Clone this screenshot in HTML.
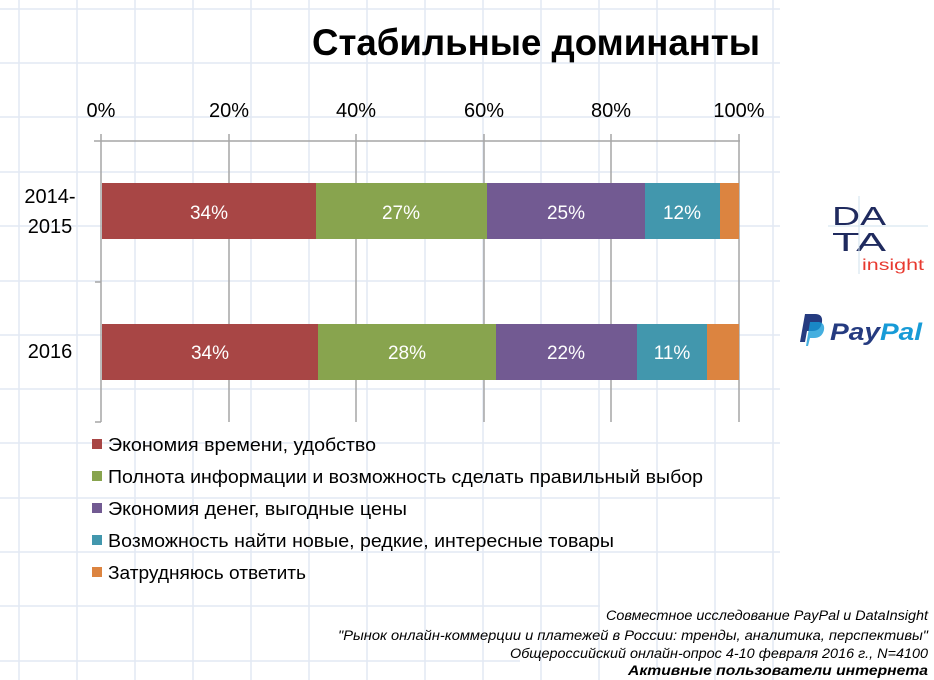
<!DOCTYPE html>
<html><head><meta charset="utf-8"><style>
html,body{margin:0;padding:0;background:#fff;}
svg{display:block;font-family:"Liberation Sans","DejaVu Sans",sans-serif;}
</style></head><body>
<svg width="934" height="680" viewBox="0 0 934 680" xmlns="http://www.w3.org/2000/svg">
<rect width="934" height="680" fill="#fff"/>
<g stroke="#e2e9f3" stroke-width="1.5">
<line x1="19" y1="0" x2="19" y2="680"/><line x1="77" y1="0" x2="77" y2="680"/><line x1="135" y1="0" x2="135" y2="680"/><line x1="193" y1="0" x2="193" y2="680"/><line x1="251" y1="0" x2="251" y2="680"/><line x1="309" y1="0" x2="309" y2="680"/><line x1="367" y1="0" x2="367" y2="680"/><line x1="425" y1="0" x2="425" y2="680"/><line x1="483" y1="0" x2="483" y2="680"/><line x1="541" y1="0" x2="541" y2="680"/><line x1="599" y1="0" x2="599" y2="680"/><line x1="657" y1="0" x2="657" y2="680"/><line x1="715" y1="0" x2="715" y2="680"/><line x1="773" y1="0" x2="773" y2="680"/>
<line x1="0" y1="9" x2="780" y2="9"/><line x1="0" y1="63" x2="780" y2="63"/><line x1="0" y1="117" x2="780" y2="117"/><line x1="0" y1="172" x2="780" y2="172"/><line x1="0" y1="226" x2="780" y2="226"/><line x1="0" y1="281" x2="780" y2="281"/><line x1="0" y1="335" x2="780" y2="335"/><line x1="0" y1="389" x2="780" y2="389"/><line x1="0" y1="443" x2="780" y2="443"/><line x1="0" y1="498" x2="780" y2="498"/><line x1="0" y1="552" x2="780" y2="552"/><line x1="0" y1="606" x2="600" y2="606"/><line x1="0" y1="661" x2="520" y2="661"/>
</g>
<text x="312" y="55" font-size="37" font-weight="bold" textLength="448" lengthAdjust="spacingAndGlyphs">Стабильные доминанты</text>
<g font-size="20" text-anchor="middle">
<text x="101" y="117">0%</text><text x="229" y="117">20%</text><text x="356" y="117">40%</text><text x="484" y="117">60%</text><text x="611" y="117">80%</text><text x="739" y="117">100%</text>
</g>
<g stroke="#a6a6a6" stroke-width="1.5">
<line x1="94" y1="141" x2="740" y2="141"/>
<line x1="101" y1="134" x2="101" y2="422"/>
<line x1="229" y1="134" x2="229" y2="422"/><line x1="356" y1="134" x2="356" y2="422"/><line x1="484" y1="134" x2="484" y2="422"/><line x1="611" y1="134" x2="611" y2="422"/><line x1="739" y1="134" x2="739" y2="422"/>
<line x1="95" y1="282" x2="101" y2="282"/><line x1="95" y1="422" x2="101" y2="422"/>
</g>
<rect x="102" y="183" width="214" height="56" fill="#a84645"/>
<rect x="316" y="183" width="171" height="56" fill="#88a44e"/>
<rect x="487" y="183" width="158" height="56" fill="#725a92"/>
<rect x="645" y="183" width="75" height="56" fill="#4297ad"/>
<rect x="720" y="183" width="19" height="56" fill="#dc8440"/>
<rect x="102" y="324" width="216" height="56" fill="#a84645"/>
<rect x="318" y="324" width="178" height="56" fill="#88a44e"/>
<rect x="496" y="324" width="141" height="56" fill="#725a92"/>
<rect x="637" y="324" width="70" height="56" fill="#4297ad"/>
<rect x="707" y="324" width="32" height="56" fill="#dc8440"/>
<g font-size="19" fill="#fff" text-anchor="middle">
<text x="209" y="219">34%</text><text x="401" y="219">27%</text><text x="566" y="219">25%</text><text x="682" y="219">12%</text>
<text x="210" y="359">34%</text><text x="407" y="359">28%</text><text x="566" y="359">22%</text><text x="672" y="359">11%</text>
</g>
<g font-size="20" text-anchor="middle">
<text x="50" y="203">2014-</text><text x="50" y="233">2015</text><text x="50" y="358">2016</text>
</g>
<g font-size="18.5">
<rect x="92" y="439" width="10" height="10" fill="#a84645"/><text x="108" y="451" textLength="268" lengthAdjust="spacingAndGlyphs">Экономия времени, удобство</text>
<rect x="92" y="471" width="10" height="10" fill="#88a44e"/><text x="108" y="483" textLength="595" lengthAdjust="spacingAndGlyphs">Полнота информации и возможность сделать правильный выбор</text>
<rect x="92" y="503" width="10" height="10" fill="#725a92"/><text x="108" y="515" textLength="299" lengthAdjust="spacingAndGlyphs">Экономия денег, выгодные цены</text>
<rect x="92" y="535" width="10" height="10" fill="#4297ad"/><text x="108" y="547" textLength="506" lengthAdjust="spacingAndGlyphs">Возможность найти новые, редкие, интересные товары</text>
<rect x="92" y="567" width="10" height="10" fill="#dc8440"/><text x="108" y="579" textLength="198" lengthAdjust="spacingAndGlyphs">Затрудняюсь ответить</text>
</g>
<g font-size="26" fill="#1f2a5e">
<text x="832" y="225" textLength="54" lengthAdjust="spacingAndGlyphs">DA</text>
<text x="832" y="251" textLength="54" lengthAdjust="spacingAndGlyphs">TA</text>
</g>
<line x1="828" y1="226" x2="928" y2="226" stroke="#cfe0ee"/>
<line x1="859" y1="196" x2="859" y2="274" stroke="#cfe0ee"/>
<text x="862" y="270" font-size="16" fill="#e8392f" textLength="62" lengthAdjust="spacingAndGlyphs">insight</text>
<path d="M800 342 l5 -28 h10 q8 0 7 8 q-1 9 -10 9 h-5 l-2 11z" fill="#253b80"/>
<path d="M806 346 l4 -24 h9 q6 1 5 8 q-2 8 -10 8 h-4 l-2 8z" fill="#179bd7" opacity="0.8"/>
<text x="830" y="340" font-size="24" font-weight="bold" font-style="italic" fill="#253b80" textLength="50" lengthAdjust="spacingAndGlyphs">Pay</text>
<text x="880" y="340" font-size="24" font-weight="bold" font-style="italic" fill="#179bd7" textLength="42" lengthAdjust="spacingAndGlyphs">Pal</text>
<g font-size="13.5" font-style="italic" text-anchor="end">
<text x="928" y="620" textLength="322" lengthAdjust="spacingAndGlyphs">Совместное исследование PayPal и DataInsight</text>
<text x="928" y="640" textLength="590" lengthAdjust="spacingAndGlyphs">"Рынок онлайн-коммерции и платежей в России: тренды, аналитика, перспективы"</text>
<text x="928" y="658" textLength="418" lengthAdjust="spacingAndGlyphs">Общероссийский онлайн-опрос 4-10 февраля 2016 г., N=4100</text>
<text x="928" y="675" font-weight="bold" textLength="300" lengthAdjust="spacingAndGlyphs">Активные пользователи интернета</text>
</g>
</svg>
</body></html>
